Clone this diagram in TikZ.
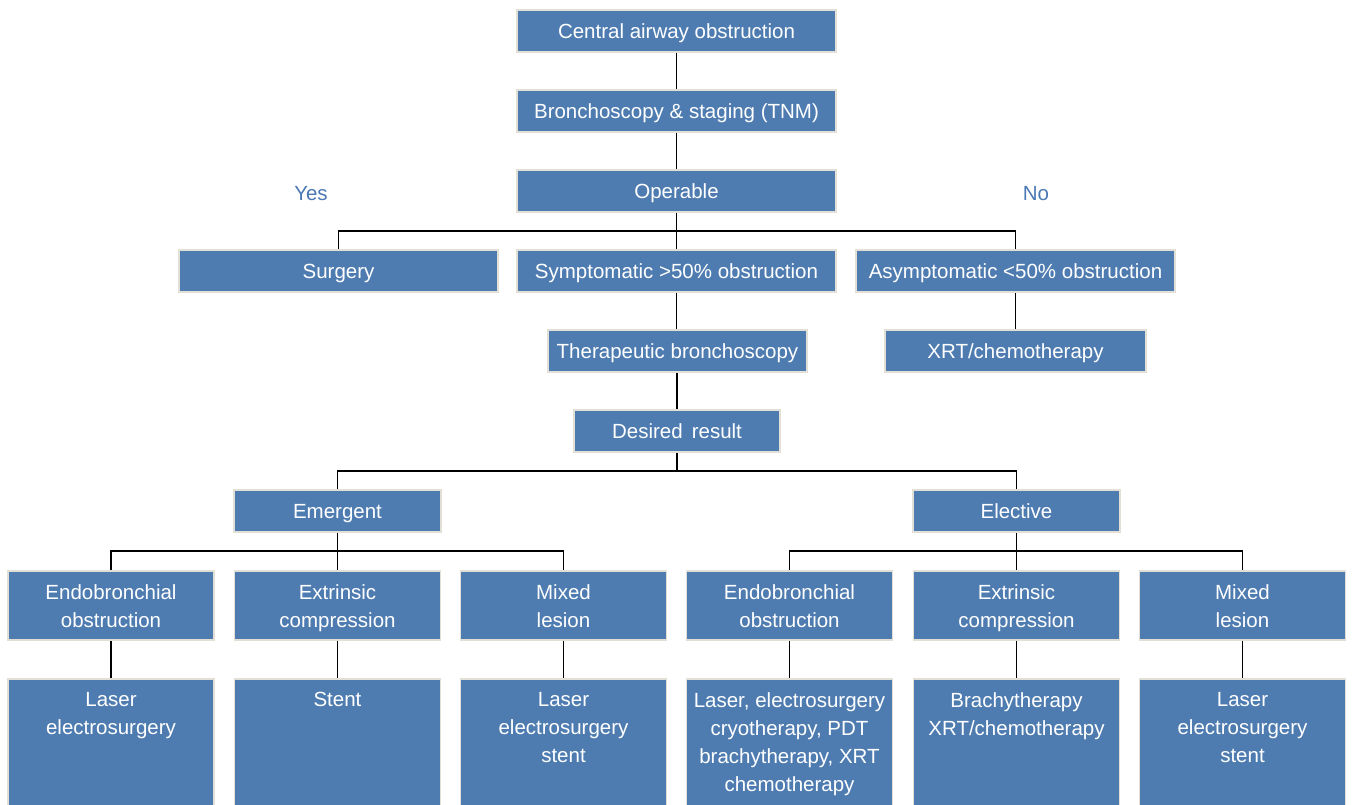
\documentclass[tikz,border=0pt]{standalone}
\usepackage{fontspec}
\setmainfont{Liberation Sans}
\definecolor{boxblue}{HTML}{4E7CB1}
\definecolor{boxline}{HTML}{E2DFD7}
\definecolor{ynblue}{HTML}{4A79B4}
\begin{document}
\begin{tikzpicture}[x=1pt,y=-1pt,
  box/.style={draw=boxline, line width=1.6pt, fill=boxblue, text=white, inner sep=0pt, align=center,
    font=\fontsize{20.5}{28}\selectfont, minimum height=42, text height=18pt, text depth=3pt},
  tall/.style={draw=boxline, line width=1.6pt, fill=boxblue, minimum width=206, minimum height=69, inner sep=0pt},
  deep/.style={draw=boxline, line width=1.6pt, fill=boxblue, minimum width=206, minimum height=131, inner sep=0pt},
  deeptext/.style={anchor=north, text=white, align=center, inner sep=0pt, font=\fontsize{20.5}{28}\selectfont},
  conn/.style={draw=black, line width=1.3pt},
  yn/.style={text=ynblue, font=\fontsize{20.5}{24}\selectfont}]
\useasboundingbox (0,0) rectangle (1352,804);
\fill[white] (0,0) rectangle (1352,804);

\node[box, minimum width=319] (cao) at (676.5,31) {Central airway obstruction};
\node[box, minimum width=319] (bron) at (676.5,111) {Bronchoscopy \& staging (TNM)};
\node[box, minimum width=319] (oper) at (676.5,191) {Operable};
\node[yn] (yes) at (311,194) {Yes};
\node[yn] (no) at (1036,194) {No};
\node[box, minimum width=319] (surg) at (338.5,271) {Surgery};
\node[box, minimum width=319] (symp) at (676.5,271) {Symptomatic >50\% obstruction};
\node[box, minimum width=319] (asym) at (1015.5,271) {Asymptomatic <50\% obstruction};
\node[box, minimum width=259] (ther) at (677.5,351) {Therapeutic bronchoscopy};
\node[box, minimum width=261] (xrt) at (1015.5,351) {XRT/chemotherapy};
\node[box, minimum width=206] (des) at (677,431) {Desired\, result};
\node[box, minimum width=207] (emer) at (337.5,511) {Emergent};
\node[box, minimum width=207] (elec) at (1016.5,511) {Elective};

\node[tall] (e1) at (111,605.5) {};
\node[tall] (e2) at (337.5,605.5) {};
\node[tall] (e3) at (563.5,605.5) {};
\node[tall] (l1) at (789.5,605.5) {};
\node[tall] (l2) at (1016.5,605.5) {};
\node[tall] (l3) at (1242.5,605.5) {};
\node[deeptext] (y1) at ([yshift=-14]e1.north) {Endobronchial\\obstruction};
\node[deeptext] (y2) at ([yshift=-14]e2.north) {Extrinsic\\compression};
\node[deeptext] (y3) at ([yshift=-14]e3.north) {Mixed\\lesion};
\node[deeptext] (y4) at ([yshift=-14]l1.north) {Endobronchial\\obstruction};
\node[deeptext] (y5) at ([yshift=-14]l2.north) {Extrinsic\\compression};
\node[deeptext] (y6) at ([yshift=-14]l3.north) {Mixed\\lesion};

\node[deep] (t1) at (111,744.5) {};
\node[deep] (t2) at (337.5,744.5) {};
\node[deep] (t3) at (563.5,744.5) {};
\node[deep] (t4) at (789.5,744.5) {};
\node[deep] (t5) at (1016.5,744.5) {};
\node[deep] (t6) at (1242.5,744.5) {};
\node[deeptext] (x1) at ([yshift=-14]t1.north) {Laser\\electrosurgery};
\node[deeptext] (x2) at ([yshift=-14]t2.north) {Stent};
\node[deeptext] (x3) at ([yshift=-14]t3.north) {Laser\\electrosurgery\\stent};
\node[deeptext] (x4) at ([yshift=-14]t4.north) {Laser, electrosurgery\\cryotherapy, PDT\\brachytherapy, XRT\\chemotherapy};
\node[deeptext] (x5) at ([yshift=-14]t5.north) {Brachytherapy\\XRT/chemotherapy};
\node[deeptext] (x6) at ([yshift=-14]t6.north) {Laser\\electrosurgery\\stent};

\coordinate (j1) at (676.5,231);
\coordinate (j2) at (677,471);
\coordinate (j3) at (337.5,551);
\coordinate (j4) at (1016.5,551);

\draw[conn] (cao) -- (bron);
\draw[conn] (bron) -- (oper);
\draw[conn] (oper) -- (j1);
\draw[conn] (j1) -- (symp);
\draw[conn] (surg.north) |- (j1);
\draw[conn] (asym.north) |- (j1);
\draw[conn] (symp.south) -- (symp.south |- ther.north);
\draw[conn] (asym) -- (xrt);
\draw[conn] (ther.south -| des.north) -- (des);
\draw[conn] (des) -- (j2);
\draw[conn] (emer.north) |- (j2);
\draw[conn] (elec.north) |- (j2);
\draw[conn] (emer) -- (j3);
\draw[conn] (e1.north) |- (j3);
\draw[conn] (e3.north) |- (j3);
\draw[conn] (j3) -- (e2);
\draw[conn] (elec) -- (j4);
\draw[conn] (l1.north) |- (j4);
\draw[conn] (l3.north) |- (j4);
\draw[conn] (j4) -- (l2);
\draw[conn] (e1) -- (t1);
\draw[conn] (e2) -- (t2);
\draw[conn] (e3) -- (t3);
\draw[conn] (l1) -- (t4);
\draw[conn] (l2) -- (t5);
\draw[conn] (l3) -- (t6);
\end{tikzpicture}
\end{document}
